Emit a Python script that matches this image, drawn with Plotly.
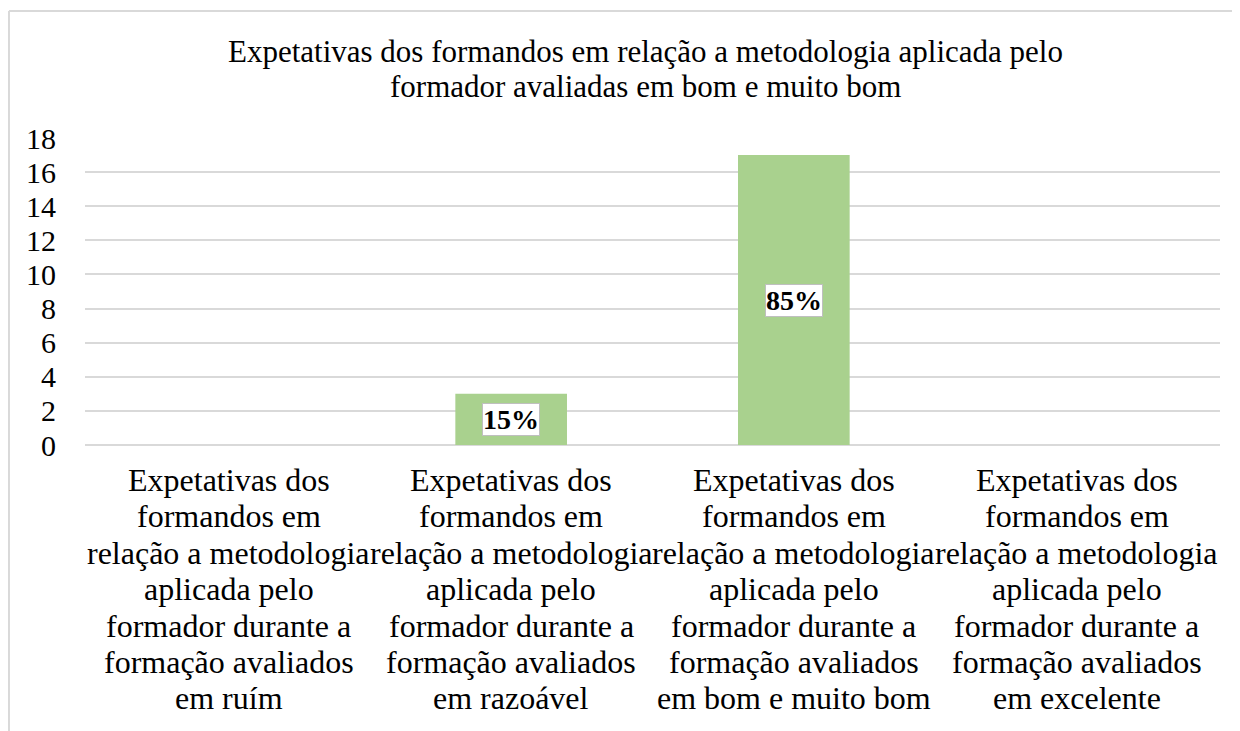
import plotly.graph_objects as go

# --- data -----------------------------------------------------------------
categorias = ["ruim", "razoavel", "bom_muito_bom", "excelente"]
rotulos_categoria = [
    ["Expetativas dos", "formandos em", "relação a metodologia", "aplicada pelo",
     "formador durante a", "formação avaliados", "em ruím"],
    ["Expetativas dos", "formandos em", "relação a metodologia", "aplicada pelo",
     "formador durante a", "formação avaliados", "em razoável"],
    ["Expetativas dos", "formandos em", "relação a metodologia", "aplicada pelo",
     "formador durante a", "formação avaliados", "em bom e muito bom"],
    ["Expetativas dos", "formandos em", "relação a metodologia", "aplicada pelo",
     "formador durante a", "formação avaliados", "em excelente"],
]
valores = [0, 3, 17, 0]
rotulos = ["", "15%", "85%", ""]
y_ticks = list(range(0, 20, 2))

titulo_linhas = [
    "Expetativas dos formandos em relação a metodologia aplicada pelo",
    "formador avaliadas em bom e muito bom",
]

FONT = "Liberation Serif"
VERDE = "#A9D18E"
CINZA = "#D9D9D9"

fig = go.Figure(go.Bar(
    x=categorias, y=valores,
    marker=dict(color=VERDE, line=dict(width=0)),
    hoverinfo="skip",
))

# data labels with white box (Excel style), centred inside the bar
for cat, v, r in zip(categorias, valores, rotulos):
    if not r:
        continue
    fig.add_annotation(
        x=cat, y=v / 2, text=f"<b>{r}</b>", showarrow=False,
        font=dict(family=FONT, size=28, color="black"),
        bgcolor="white", bordercolor="#BFBFBF", borderwidth=1, borderpad=0,
    )

# category labels, one line per annotation (Excel-like tighter line spacing)
for cat, linhas in zip(categorias, rotulos_categoria):
    for j, linha in enumerate(linhas):
        fig.add_annotation(
            x=cat, xref="x", y=0, yref="paper", yanchor="middle",
            yshift=-(35 + 36.4 * j), text=linha, showarrow=False,
            font=dict(family=FONT, size=32, color="black"),
        )

# title, two lines
for j, linha in enumerate(titulo_linhas):
    fig.add_annotation(
        x=0.4934, xref="paper", y=1, yref="paper", yanchor="middle",
        yshift=87 - 35 * j, text=linha, showarrow=False,
        font=dict(family=FONT, size=31, color="black"),
    )

# chart-area border (only top/left visible in the reference)
fig.add_shape(type="line", xref="paper", yref="paper",
              x0=-0.0670, x1=1.2, y0=1.4137, y1=1.4137,
              line=dict(color=CINZA, width=2))
fig.add_shape(type="line", xref="paper", yref="paper",
              x0=-0.0670, x1=-0.0670, y0=1.4137, y1=-1.2,
              line=dict(color=CINZA, width=2))

fig.update_layout(
    width=1240, height=731,
    paper_bgcolor="white", plot_bgcolor="white",
    font=dict(family=FONT, size=30, color="black"),
    margin=dict(l=77, r=28, t=130, b=294),
    bargap=0.605,
    showlegend=False,
    xaxis=dict(showgrid=False, showline=False, zeroline=False,
               showticklabels=False, ticks=""),
    yaxis=dict(range=[0, 18], tickvals=y_ticks, showgrid=True,
               gridcolor=CINZA, gridwidth=2, zeroline=True,
               zerolinecolor=CINZA, zerolinewidth=2, showline=False,
               ticks="", ticklabelstandoff=28,
               tickfont=dict(family=FONT, size=30, color="black")),
)

fig.write_html("out.html")
